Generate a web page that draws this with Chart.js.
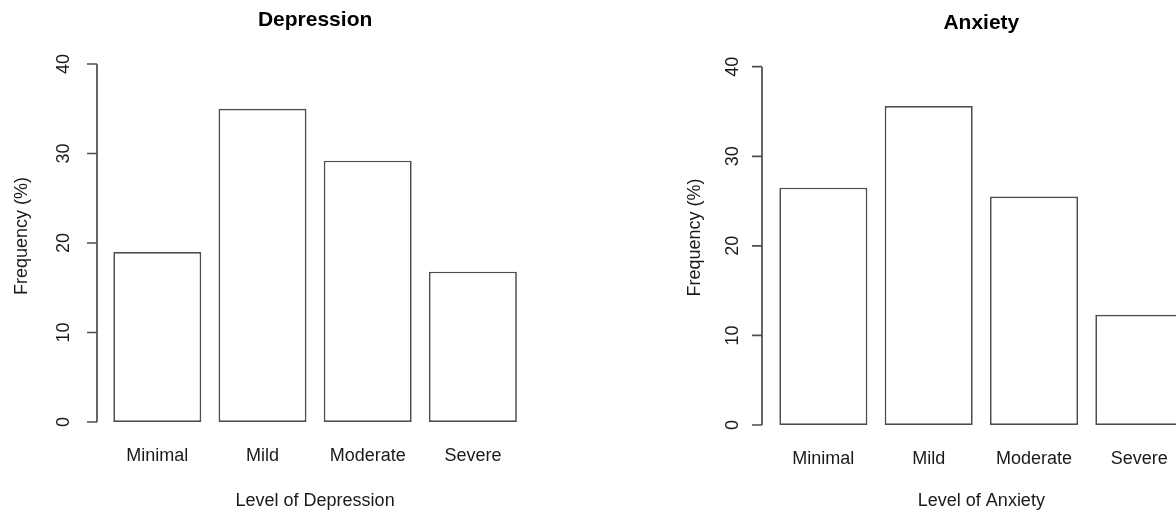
<!DOCTYPE html>
<html>
<head>
<meta charset="utf-8">
<script src="https://cdn.jsdelivr.net/npm/chart.js@4"></script>
<style>
  html, body { margin: 0; padding: 0; background: #fff; }
  body { width: 1176px; height: 516px; overflow: hidden; position: relative; }
  .box { position: absolute; top: 0; height: 516px; }
  #left { left: 0; width: 588px; }
  #right { left: 588px; width: 640px; }
</style>
</head>
<body>
<div class="box" id="left"><canvas id="depChart"></canvas></div>
<div class="box" id="right"><canvas id="anxChart"></canvas></div>
<script>
// values (percent)
const levels = ['Minimal', 'Mild', 'Moderate', 'Severe'];
const depressionPct = [19.0, 35.0, 29.2, 16.8];
const anxietyPct = [26.5, 35.6, 25.5, 12.3];
const yTicks = [0, 10, 20, 30, 40];

const FONT = '"Liberation Sans", Arial, Helvetica, sans-serif';
const LINE = '#4d4d4d';
const TEXT = '#1a1a1a';

// R style y axis: line only across the tick range, sits left of the bars,
// labels turned to read upwards
const rAxis = {
	id: 'rAxis',
	afterDraw(chart, args, opts) {
		var ctx = chart.ctx;
		var y = chart.scales.y;
		var top = y.getPixelForValue(yTicks[yTicks.length - 1]);
		var bottom = y.getPixelForValue(yTicks[0]);
		ctx.save();
		ctx.strokeStyle = LINE;
		ctx.lineWidth = 1.7;
		ctx.beginPath();
		ctx.moveTo(opts.x, top);
		ctx.lineTo(opts.x, bottom);
		yTicks.forEach(function(t) {
			var py = y.getPixelForValue(t);
			ctx.moveTo(opts.x - 10, py);
			ctx.lineTo(opts.x, py);
		});
		ctx.stroke();

		ctx.fillStyle = TEXT;
		ctx.font = '18px ' + FONT;
		ctx.textAlign = 'center';
		ctx.textBaseline = 'middle';
		yTicks.forEach(function(t) {
			ctx.save();
			ctx.translate(opts.labelX, y.getPixelForValue(t));
			ctx.rotate(-Math.PI / 2);
			ctx.fillText(String(t), 0, 0);
			ctx.restore();
		});

		ctx.save();
		ctx.translate(opts.titleX, opts.titleY);
		ctx.rotate(-Math.PI / 2);
		ctx.fillText('Frequency (%)', 0, 0);
		ctx.restore();
		ctx.restore();
	}
};

function makeChart(id, title, xTitle, values, lay) {
	return new Chart(document.getElementById(id), {
		type: 'bar',
		data: {
			labels: levels,
			datasets: [{
				data: values,
				backgroundColor: '#ffffff',
				borderColor: LINE,
				borderWidth: 1.7,
				borderSkipped: false,
				categoryPercentage: 1,
				barPercentage: 0.836
			}]
		},
		options: {
			responsive: true,
			maintainAspectRatio: false,
			animation: false,
			layout: { padding: { left: lay.left, right: lay.right, top: 0, bottom: 0 } },
			plugins: {
				legend: { display: false },
				tooltip: { enabled: false },
				title: {
					display: true,
					text: title,
					color: '#000',
					fullSize: false,
					font: { family: FONT, size: 21, weight: 'bold' },
					padding: { top: lay.titleTop, bottom: lay.titleBottom }
				},
				rAxis: lay.axis
			},
			scales: {
				y: { display: false, min: 0, max: 40 },
				x: {
					grid: { display: false, drawTicks: false },
					border: { display: false },
					ticks: {
						color: TEXT,
						font: { family: FONT, size: 18 },
						padding: 23,
						maxRotation: 0,
						autoSkip: false
					},
					title: {
						display: true,
						text: xTitle,
						color: TEXT,
						font: { family: FONT, size: 18 },
						padding: { top: lay.xTitleTop, bottom: lay.xTitleBottom }
					}
				}
			}
		},
		plugins: [rAxis]
	});
}

makeChart('depChart', 'Depression', 'Level of Depression', depressionPct, {
	left: 104.7, right: 62.5, titleTop: 7.4, titleBottom: 31.4, xTitleTop: 0.6, xTitleBottom: 4.2,
	axis: { x: 97, labelX: 64, titleX: 22, titleY: 236 }
});

makeChart('anxChart', 'Anxiety', 'Level of Anxiety', anxietyPct, {
	left: 182.7, right: 36, titleTop: 11, titleBottom: 30.5, xTitleTop: -2.4, xTitleBottom: 4.2,
	axis: { x: 174, labelX: 145, titleX: 107, titleY: 237.5 }
});
</script>
</body>
</html>
